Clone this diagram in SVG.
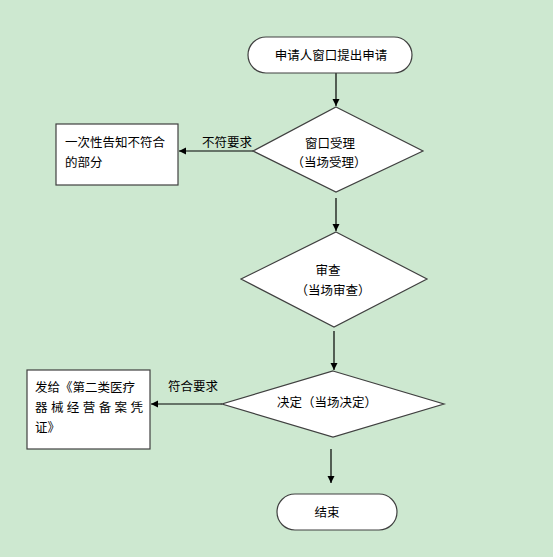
<svg xmlns="http://www.w3.org/2000/svg" width="553" height="557" viewBox="0 0 553 557">
<style>
text{font-family:"Noto Sans CJK SC","Liberation Sans",sans-serif;font-size:12.5px;fill:#000}
.c{text-anchor:middle}
.shape{fill:#fff;stroke:#404040;stroke-width:1.2}
.edge{stroke:#000;stroke-width:1.2;fill:none;marker-end:url(#ah)}
</style>
<defs>
<marker id="ah" markerWidth="8" markerHeight="8" refX="7" refY="4" orient="auto" markerUnits="userSpaceOnUse">
<path d="M0,0.5 L7,4 L0,7.5 Z" fill="#000"/>
</marker>
</defs>
<rect width="553" height="557" fill="#CDE8D0"/>
<g id="connectors">
<line class="edge" x1="336" y1="73" x2="336" y2="106"/>
<line class="edge" x1="253" y1="151" x2="179" y2="151"/>
<line class="edge" x1="336" y1="198" x2="336" y2="231"/>
<line class="edge" x1="334" y1="331" x2="334" y2="370"/>
<line class="edge" x1="222" y1="404" x2="151" y2="404"/>
<line class="edge" x1="331" y1="449" x2="331" y2="483"/>
<text x="227" y="147" class="c">不符要求</text>
<text x="193" y="391" class="c">符合要求</text>
</g>
<g id="start">
<rect class="shape" x="248" y="37" width="164" height="36" rx="18"/>
<text x="331" y="60" class="c">申请人窗口提出申请</text>
</g>
<g id="accept">
<polygon class="shape" points="336,107 423,151 336,192 253,151"/>
<text x="330" y="148" class="c">窗口受理</text>
<text x="329" y="167" class="c">（当场受理）</text>
</g>
<g id="notify">
<rect class="shape" x="56" y="124" width="122" height="61"/>
<text x="65" y="147">一次性告知不符合</text>
<text x="65" y="167">的部分</text>
</g>
<g id="review">
<polygon class="shape" points="336,232 427,279 334,327 241,279"/>
<text x="328" y="275" class="c">审查</text>
<text x="333" y="295" class="c">（当场审查）</text>
</g>
<g id="decide">
<polygon class="shape" points="333,371 444,404 333,437 222,404"/>
<text x="327" y="407" class="c">决定（当场决定）</text>
</g>
<g id="issue">
<rect class="shape" x="27" y="370" width="123" height="79"/>
<text x="35" y="392">发给《第二类医疗</text>
<text x="35" y="412" textLength="108" lengthAdjust="spacing">器械经营备案凭</text>
<text x="35" y="432">证》</text>
</g>
<g id="end">
<rect class="shape" x="277" y="494" width="120" height="36" rx="18"/>
<text x="327" y="517" class="c">结束</text>
</g>
</svg>
